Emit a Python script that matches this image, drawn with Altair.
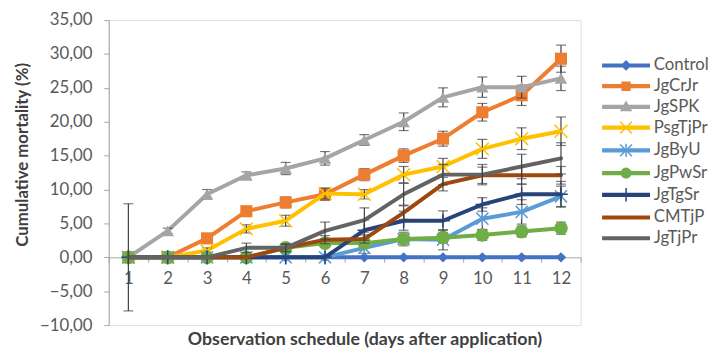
import altair as alt
import pandas as pd

# ---------------- data ----------------
days = list(range(1, 13))
series_names = ["Control", "JgCrJr", "JgSPK", "PsgTjPr", "JgByU",
                "JgPwSr", "JgTgSr", "CMTjP", "JgTjPr"]
series_colors = ["#4472C4", "#ED7D31", "#A5A5A5", "#FFC000", "#5B9BD5",
                 "#70AD47", "#264478", "#9E480E", "#636363"]

control = [0, 0, 0, 0, 0, 0, 0, 0, 0, 0, 0, 0]
jgcrjr = [0, 0, 2.8, 6.8, 8.1, 9.3, 12.2, 15.0, 17.5, 21.4, 23.9, 29.3]
jgspk = [0, 3.9, 9.3, 12.1, 13.1, 14.6, 17.3, 20.0, 23.6, 25.1, 25.1, 26.4]
psgtjpr = [0, 0, 1.0, 4.2, 5.4, 9.4, 9.3, 12.2, 13.4, 16.0, 17.5, 18.6]
jgbyu = [0, 0, 0, 0, 0, 0, 1.4, 2.7, 2.6, 5.7, 6.7, 9.0]
jgpwsr = [0, 0, 0, 0, 1.4, 2.1, 2.1, 2.7, 2.9, 3.3, 3.8, 4.3]
jgtgsr = [0, 0, 0, 0, 0, 0, 4.0, 5.4, 5.4, 7.8, 9.3, 9.3]
cmtjp = [0, 0, 0, 0, 1.4, 2.6, 2.7, 6.6, 10.8, 12.1, 12.1, 12.1]
jgtjpr = [0, 0, 0, 1.4, 1.4, 3.9, 5.5, 9.3, 12.2, 12.2, 13.4, 14.6]

err_control = [0, 0, 0, 0, 0, 0, 0, 0, 0, 0, 0, 0]
err_jgcrjr = [0, 0, 0.6, 0.7, 0.8, 0.9, 0.9, 1.0, 1.1, 1.3, 1.5, 2.0]
err_jgspk = [0, 0.4, 0.7, 0.5, 0.9, 1.0, 0.8, 1.3, 1.4, 1.5, 1.6, 1.8]
err_psgtjpr = [0, 0, 0.4, 0.6, 0.8, 0.8, 0.7, 1.2, 1.2, 1.4, 1.6, 2.1]
err_jgbyu = [0, 0, 0, 0, 0, 0, 0.8, 1.0, 1.5, 1.6, 1.8, 1.5]
err_jgpwsr = [0, 0, 0, 0, 0.5, 0.5, 0.6, 0.7, 0.7, 0.8, 0.8, 0.9]
err_jgtgsr = [0, 0, 0, 0, 0, 0, 1.5, 1.4, 1.45, 1.0, 1.5, 1.9]
err_cmtjp = [0, 0, 0, 0, 0.5, 0.6, 0.6, 1.0, 1.0, 1.2, 1.3, 1.3]
err_jgtjpr = [7.9, 0, 0, 0.7, 0.6, 1.3, 1.8, 1.6, 1.5, 1.5, 1.8, 2.3]

y_ticks = [-10, -5, 0, 5, 10, 15, 20, 25, 30, 35]

values = dict(zip(series_names, [control, jgcrjr, jgspk, psgtjpr, jgbyu,
                                 jgpwsr, jgtgsr, cmtjp, jgtjpr]))
errors = dict(zip(series_names, [err_control, err_jgcrjr, err_jgspk, err_psgtjpr,
                                 err_jgbyu, err_jgpwsr, err_jgtgsr, err_cmtjp,
                                 err_jgtjpr]))

rows = []
for s in series_names:
    for d, v, e in zip(days, values[s], errors[s]):
        rows.append({"day": d, "series": s, "value": v, "err": e,
                     "lo": v - e, "hi": v + e})
df = pd.DataFrame(rows)

# ---------------- styling ----------------
FONT = "Lato"
TXT = "#595959"
AXC = "#A6A6A6"
ERR = "#404040"
W, H = 478, 309

# plot markers (None = line only)
markers = {
    "Control": dict(shape="diamond", filled=True, size=110),
    "JgCrJr": dict(shape="square", filled=True, size=150),
    "JgSPK": dict(shape="triangle-up", filled=True, size=160),
    "PsgTjPr": dict(shape="M-1,-1L1,1M-1,1L1,-1", filled=False, size=170, strokeWidth=1.5),
    "JgByU": dict(shape="M-1,-1L1,1M-1,1L1,-1M0,-1.2L0,1.2", filled=False, size=150, strokeWidth=1.5),
    "JgPwSr": dict(shape="circle", filled=True, size=190),
    "JgTgSr": dict(shape="M-1,0L1,0M0,-1L0,1", filled=False, size=190, strokeWidth=1.5),
    "CMTjP": None,
    "JgTjPr": None,
}

# legend symbols: line + marker (unit = 8 px)
LINE = "M-2.94,-0.17L2.94,-0.17L2.94,0.17L-2.94,0.17Z"
legend_shapes = [
    LINE + "M0,-0.55L0.55,0L0,0.55L-0.55,0Z",
    LINE + "M-0.5,-0.5L0.5,-0.5L0.5,0.5L-0.5,0.5Z",
    LINE + "M0,-0.62L0.62,0.45L-0.62,0.45Z",
    LINE + "M-0.75,-0.75L0.75,0.75M-0.75,0.75L0.75,-0.75",
    LINE + "M-0.75,-0.75L0.75,0.75M-0.75,0.75L0.75,-0.75M0,-0.85L0,0.85",
    LINE + "M-0.6,0A0.6,0.6,0,1,1,0.6,0A0.6,0.6,0,1,1,-0.6,0Z",
    LINE + "M0,-0.85L0,0.85",
    LINE,
    LINE,
]

x_scale = alt.Scale(type="band", domain=days, paddingInner=0, paddingOuter=0)
y_scale = alt.Scale(domain=[-10, 35], nice=False, zero=False)
color_scale = alt.Scale(domain=series_names, range=series_colors)

x_axis = alt.Axis(
    title="Observation schedule (days after application)",
    tickBand="extent", offset=-H * 10 / 45, labelAngle=0,
    labelFont=FONT, labelFontSize=17, labelColor=TXT, labelPadding=9,
    tickSize=5, tickColor=AXC, domainColor=AXC, grid=False,
    titleFont=FONT, titleFontSize=18, titleFontWeight="bold", titleColor="#404040",
    titleX=259, titleY=74, titleBaseline="top",
)
y_axis = alt.Axis(
    title="Cumulative mortality (%)", values=y_ticks,
    labelExpr="replace(format(datum.value, '.2f'), '.', ',')",
    labelFont=FONT, labelFontSize=17, labelColor=TXT, labelPadding=12,
    tickSize=5, tickColor=AXC, domainColor=AXC, grid=False,
    titleFont=FONT, titleFontSize=17, titleFontWeight="bold", titleColor="#404040",
    titleX=-78, titleY=136, titleBaseline="bottom",
)

X = alt.X("day:O", scale=x_scale, bandPosition=0.5, axis=x_axis)
Y = alt.Y("value:Q", scale=y_scale, axis=y_axis)
C = alt.Color("series:N", scale=color_scale, legend=None)

base = alt.Chart(df)
layers = []

# legend carrier (draws nothing, only makes the legend)
leg = alt.Legend(
    title=None, orient="none", legendX=515, legendY=37,
    symbolSize=256, symbolStrokeWidth=1.5, rowPadding=4, labelOffset=19,
    labelFont=FONT, labelFontSize=17, labelColor=TXT, padding=0,
)
layers.append(
    base.transform_filter("false").mark_point(filled=True, opacity=1).encode(
        x=X, y=Y,
        fill=alt.Fill("series:N", scale=alt.Scale(domain=series_names, range=series_colors), legend=leg),
        stroke=alt.Stroke("series:N", scale=alt.Scale(domain=series_names, range=series_colors), legend=leg),
        shape=alt.Shape("series:N", scale=alt.Scale(domain=series_names, range=legend_shapes), legend=leg),
    )
)

for s in series_names:
    sub = base.transform_filter(alt.datum.series == s)
    layers.append(
        sub.mark_line(strokeWidth=4, strokeJoin="round", strokeCap="round").encode(x=X, y=Y, color=C)
    )
    err_sub = sub.transform_filter(alt.datum.err > 0)
    layers.append(
        err_sub.mark_rule(color=ERR, strokeWidth=1.2).encode(
            x=X, y=alt.Y("lo:Q", scale=y_scale, axis=y_axis), y2="hi:Q")
    )
    for end in ["lo", "hi"]:
        layers.append(
            err_sub.mark_tick(color=ERR, orient="horizontal", size=10, thickness=1.2).encode(
                x=X, y=alt.Y(f"{end}:Q", scale=y_scale, axis=y_axis))
        )
    m = markers[s]
    if m is not None:
        layers.append(sub.mark_point(opacity=1, **m).encode(x=X, y=Y, color=C))

chart = alt.layer(*layers).properties(
    width=W, height=H, padding={"left": 5, "top": 1, "right": 0, "bottom": 0}
).configure_view(stroke=None).configure(background="white")

chart.save("out.html", embed_options={"renderer": "svg", "actions": False})
